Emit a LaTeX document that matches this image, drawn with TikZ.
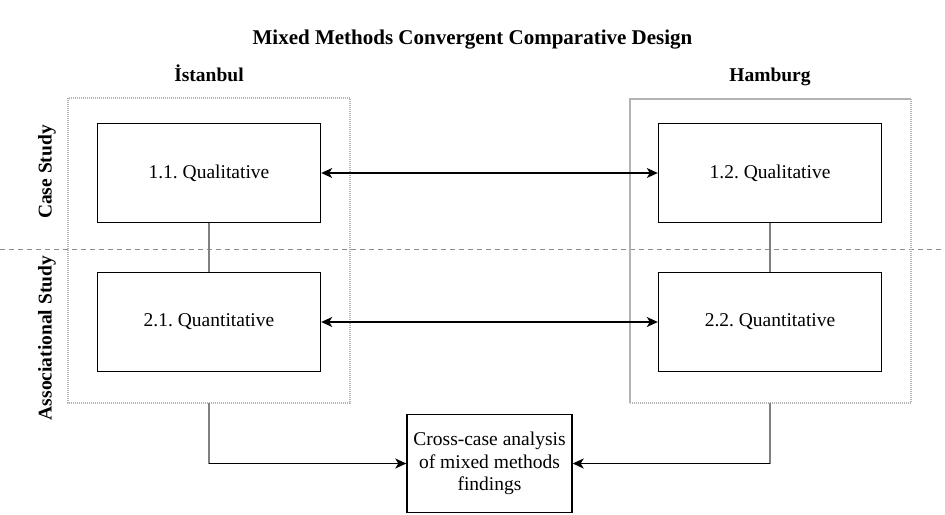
\documentclass[tikz,border=0pt]{standalone}
\usepackage{fontspec}
\setmainfont{Liberation Serif}
\usetikzlibrary{arrows.meta,calc}
\frenchspacing

\definecolor{framegray}{HTML}{B3B3B3}
\definecolor{linkgray}{HTML}{808080}
\definecolor{dashgray}{HTML}{8C8C8C}

\tikzset{
  phase/.style={draw=black, line width=1.4pt, fill=white, minimum width=223pt,
    minimum height=99pt, inner sep=0pt, font=\fontsize{19.5}{22.5}\selectfont},
  heading/.style={font=\fontsize{19.5}{22}\selectfont\bfseries, anchor=base},
  sidelabel/.style={font=\fontsize{19.5}{22}\selectfont\bfseries, rotate=90},
  frameedge/.style={draw=framegray, line width=1.4pt, dash pattern=on 1pt off 1pt},
  framesolid/.style={draw=framegray, line width=2.4pt},
  link/.style={draw=linkgray, line width=2pt},
  flow/.style={draw=black, line width=1.4pt,
    -{Stealth[length=11pt,width=10pt,inset=3pt]}},
  twoway/.style={draw=black, line width=1.4pt,
    {Stealth[length=11pt,width=10pt,inset=3pt]}-{Stealth[length=11pt,width=10pt,inset=3pt]}},
}

\begin{document}
\begin{tikzpicture}[x=1pt,y=-1pt]
\useasboundingbox (0,0) rectangle (945,514);

% title and city headings
\node[font=\fontsize{21}{24}\selectfont\bfseries] (title) at (472.5,40) {Mixed Methods Convergent Comparative Design};
\node[heading] (ist) at (209,81) {İstanbul};
\node[heading] (ham) at (770,81) {Hamburg};

% study-type divider
\draw[draw=dashgray, line width=1pt, dash pattern=on 5pt off 4pt] (0,249) -- (945,249);

% city frames
\coordinate (lfTL) at (68,98);
\coordinate (lfBR) at (350,403);
\draw[frameedge] (lfTL) rectangle (lfBR);
\coordinate (lfS) at (209,403);

\coordinate (rfTL) at (630,99);
\coordinate (rfBR) at (911,403);
\draw[frameedge] (rfTL -| rfBR) -- (rfBR) -- (rfBR -| rfTL);
\draw[framesolid] (rfBR -| rfTL) -- (rfTL) -- (rfTL -| rfBR);
\coordinate (rfS) at (770,403);

% row labels
\node[sidelabel] (case) at (47,172) {Case Study};
\node[sidelabel] (assoc) at (47,338) {Associational Study};

% phase boxes
\node[phase] (q11) at (209,173) {1.1. Qualitative};
\node[phase] (q21) at (209,322) {2.1. Quantitative};
\node[phase] (q12) at (770,173) {1.2. Qualitative};
\node[phase] (q22) at (770,322) {2.2. Quantitative};

% integration box
\node[phase, minimum width=165pt, minimum height=98pt, align=center]
  (cross) at (489.5,463.5) {Cross-case analysis\\of mixed methods\\findings};

% links within each city
\draw[link] (q11.south) -- (q21.north);
\draw[link] (q12.south) -- (q22.north);

% comparisons across cities
\draw[twoway] (q11.east) -- (q12.west);
\draw[twoway] (q21.east) -- (q22.west);

% flows into the cross-case analysis
\draw[link] (lfS) -- (lfS |- cross.west);
\draw[flow] (lfS |- cross.west) -- (cross.west);
\draw[link] (rfS) -- (rfS |- cross.east);
\draw[flow] (rfS |- cross.east) -- (cross.east);
\end{tikzpicture}
\end{document}
